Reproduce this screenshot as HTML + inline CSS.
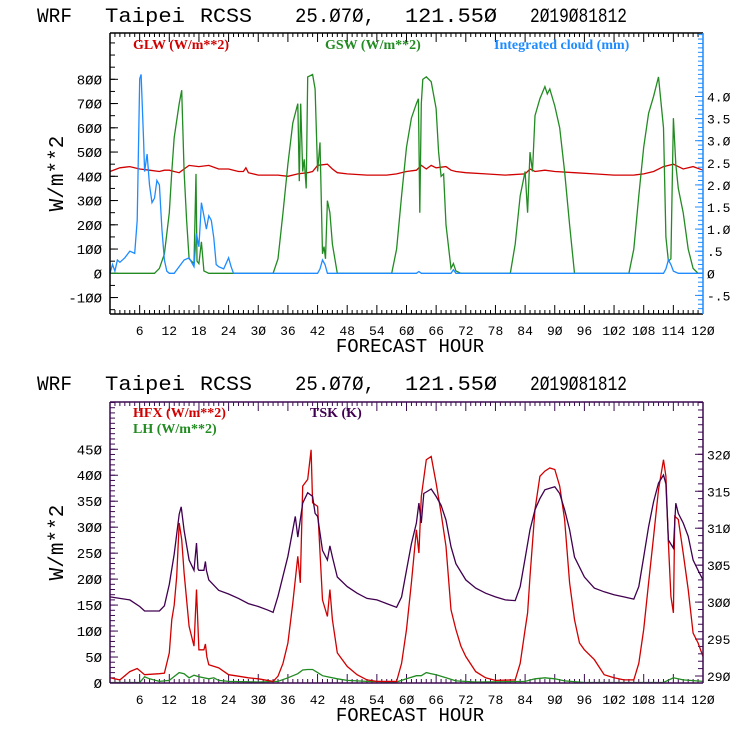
<!DOCTYPE html>
<html><head><meta charset="utf-8"><style>
body{margin:0;background:#fff;}
svg{display:block;}
text{font-family:"Liberation Mono","DejaVu Sans Mono",monospace;}
.leg{font-family:"Liberation Serif",serif;font-weight:bold;font-size:14px;}
</style></head><body>
<svg id="chart" width="740" height="740" viewBox="0 0 740 740"></svg>
<script>
// ---------- Data: top panel ----------
const glwHours=[0,2,4,6,8,10,11,12,13,14,15,16,18,20,22,24,26,27,27.5,28,30,34,36,38,40,41,42,44,45,46,48,52,56,58,60,62,63,64,65,66,68,69,70,72,76,80,84,85,86,88,90,94,98,102,106,108,110,112,114,116,118,120];
const glwValues=[420,435,440,430,425,420,425,425,420,415,430,445,440,445,430,430,420,420,435,415,405,405,400,410,415,420,445,450,430,415,410,405,405,410,420,425,445,430,445,435,440,425,420,415,410,405,410,430,420,425,420,415,410,405,405,410,420,440,450,430,440,425];
const gswHours=[0,9,10,11,12,12.5,13,14,14.5,15,15.5,16,17,17.4,17.6,18,18.5,19,20,21,33,34,35,36,37,38,38.3,38.6,39,39.3,39.7,40,41,41.5,42,42.5,43,43.3,43.6,44,44.5,45,46,57,58,59,60,61,62,62.4,62.7,63,63.3,64,65,66,66.5,67,67.5,68,69,69.5,70,71,81,82,83,84,84.5,85,85.5,86,87,88,88.5,89,90,91,92,93,94,105,106,107,108,109,110,111,112,112.5,113,113.5,114,114.5,115,116,117,118,119,120];
const gswValues=[0,0,20,80,250,420,560,700,755,420,220,60,40,410,50,40,130,10,0,0,0,60,250,450,620,700,380,700,420,470,350,810,820,760,420,540,80,110,60,300,250,120,0,0,100,320,520,640,700,720,250,700,800,810,790,680,500,400,410,200,20,40,10,0,0,120,320,420,250,500,420,650,720,770,740,760,690,600,420,200,0,0,100,320,520,660,730,810,600,150,50,60,640,450,350,250,100,20,0,0];
const cloudHours=[0,0.5,1,1.5,2,3,4,5,5.5,6,6.3,6.8,7,7.5,8,8.5,9,9.5,10,10.5,11,11.5,12,12.5,13,15,16,17,17.5,18,18.5,19,19.5,20,20.5,21,21.5,22,23,24,24.5,25,26,42,42.5,43,43.5,44,45,62,62.5,63,69,69.5,70,112,112.5,113,113.5,114,115,116,120];
const cloudValues=[0,0.2,0.05,0.3,0.25,0.35,0.5,0.45,1.2,4.4,4.5,3.0,2.3,2.7,2.0,1.6,1.7,2.1,2.0,1.0,0.3,0.05,0,0,0,0.3,0.35,0.15,0.9,0.6,1.6,1.3,1.0,1.3,1.2,0.8,0.2,0.15,0.1,0.35,0.15,0,0,0,0.1,0.3,0.2,0,0,0,0.04,0,0,0.08,0,0,0.1,0.3,0.2,0.05,0,0,0];
// ---------- Data: bottom panel ----------
const tskHours=[0,4,6,7,10,11,12,13,14,14.4,15,16,17,17.5,17.8,18,19,19.3,19.5,20,22,24,26,28,30,32,33,34,36,37.5,38,39,40,41,41.5,42,43,44,44.5,45,46,48,50,52,54,56,58,59,60,61,62,62.5,63,63.5,64,65,66,67,68,69,70,72,74,76,78,80,82,83,84,85,86,87,88,89,90,91,92,93,94,96,98,100,102,104,106,107,108,109,110,111,112,112.5,113,114,114.5,115,116,117,118,119,120];
const tskValues=[300.7,300.3,299.4,298.8,298.8,299.5,302.4,306.5,311.9,312.9,309.7,305.7,304.3,308,304.5,304.3,304.3,305.5,304.3,303,301.6,301.1,300.5,299.8,299.4,298.9,298.6,300.8,306.2,311.6,308.8,313.4,314.8,314.3,312,311.6,307,305.7,307.6,306.1,303.4,302.1,301.2,300.5,300.3,299.8,299.3,300.7,304.3,307.9,310.7,313.4,310.7,314.7,314.9,315.3,314.3,313.1,311.1,307.5,305.2,303,301.9,301.2,300.7,300.3,300.2,302.1,305.9,309.8,312.5,314,315.2,315.4,315.6,314.7,312.5,309.8,306.1,303.4,301.9,301.4,301,300.7,300.4,302.1,306.1,310.2,313.6,316.1,317.2,316,308.4,307.3,313.4,312,310.7,308.9,305.7,304.3,303];
const hfxHours=[0,2,4,5.5,7,10,11,12,12.5,13,13.5,14,14.5,15,16,17,17.5,18,19,19.3,19.6,20,22,24,26,28,30,33,34,35,36,37,38,38.5,39,40,40.7,41,42,43,44,44.5,45,46,48,50,52,54,58,59,60,61,62,62.5,63,64,65,66,67,68,69,70,71,72,74,76,78,82,83,84,84.5,85,86,87,88,89,90,91,92,93,94,95,96,98,100,102,104,106,107,108,109,110,111,112,112.5,113,113.5,114,114.3,115,116,117,118,119,120];
const hfxValues=[10,6,22,28,16,18,19,58,122,150,205,308,276,212,109,71,180,64,64,75,50,35,29,16,13,10,8,3,13,38,77,154,244,193,379,392,449,347,340,160,128,180,122,58,32,16,6,3,3,38,103,193,295,250,359,430,436,385,327,263,141,103,71,51,22,10,5,6,38,103,135,205,334,398,408,414,411,379,315,193,122,77,64,45,16,10,6,6,38,103,193,282,372,430,398,270,167,135,321,315,250,180,96,77,51];
const lhHours=[0,6,7,8,10,12,14,15,16,17,18,20,21,22,24,30,34,36,38,39,40,41,42,43,44,46,48,52,58,60,62,63,64,65,66,68,70,74,84,86,88,90,92,96,112,114,116,120];
const lhValues=[1,1,12,8,3,5,20,18,10,15,12,8,10,5,3,2,3,10,18,25,26,26,20,14,12,8,5,3,2,8,14,14,20,18,16,10,4,2,3,8,10,8,4,1,1,10,6,3];
const xTicks=[6,12,18,24,30,36,42,48,54,60,66,72,78,84,90,96,102,108,114,120];
const topLeftTicks=[-100,0,100,200,300,400,500,600,700,800];
const topRightTicks=[-0.5,0,0.5,1.0,1.5,2.0,2.5,3.0,3.5,4.0];
const topRightLabels=["-.5","0",".5","1.0","1.5","2.0","2.5","3.0","3.5","4.0"];
const botLeftTicks=[0,50,100,150,200,250,300,350,400,450];
const botRightTicks=[290,295,300,305,310,315,320];

const NS="http://www.w3.org/2000/svg";
const svg=document.getElementById('chart');
function mk(tag,attrs,parent){const e=document.createElementNS(NS,tag);for(const k in attrs)e.setAttribute(k,attrs[k]);(parent||svg).appendChild(e);return e;}
function txt(s,attrs,parent){const e=mk('text',attrs,parent);e.textContent=s.replace(/0/g,'\u00d8');return e;}

const X0=110,X1=703;
function xs(h){return X0+(X1-X0)*h/120;}
const titleParts=[["WRF",37,35],["Taipei",105,80],["RCSS",200,52],["25.070,",295,80],["121.550",405,92],["2019081812",530,97]];

function panel(o){
  const g=mk('g',{});
  
  
  const tg=mk('g',{},g);
  
  
  titleParts.forEach(p=>{txt(p[0],{x:p[1],y:o.titleY,'font-size':20,textLength:p[2],lengthAdjust:'spacingAndGlyphs',fill:'#000'},tg);});
  const yl=o.yl, yr=o.yr;
  for(let h=0;h<=120;h++){
    const len=(h%6===0)?9:4;
    mk('line',{x1:xs(h),x2:xs(h),y1:o.bot,y2:o.bot-len,stroke:o.axis,'stroke-width':1},g);
    mk('line',{x1:xs(h),x2:xs(h),y1:o.top,y2:o.top+len,stroke:o.axis,'stroke-width':1},g);
  }
  xTicks.forEach(h=>{const l=txt(String(h),{x:xs(h),y:o.bot+21,'font-size':13,'text-anchor':'middle'},g);
    });
  for(let v=o.lMinStart;v<=o.lMax;v+=o.lMinor){const y=yl(v);if(y<o.top||y>o.bot)continue;
    mk('line',{x1:X0,x2:X0+5,y1:y,y2:y,stroke:o.axis},g);}
  o.lTicks.forEach(v=>{const y=yl(v);mk('line',{x1:X0,x2:X0+8,y1:y,y2:y,stroke:o.axis},g);
    const l=txt(String(v),{x:X0-8,y:y+5,'font-size':14,'text-anchor':'end'},g);
    });
  for(let v=o.rMinStart;v<=o.rMax+1e-9;v+=o.rMinor){const y=yr(v);if(y<o.top||y>o.bot)continue;
    mk('line',{x1:X1,x2:X1-5,y1:y,y2:y,stroke:o.raxis},g);}
  o.rTicks.forEach((v,i)=>{const y=yr(v);mk('line',{x1:X1,x2:X1-8,y1:y,y2:y,stroke:o.raxis},g);
    const l=txt(o.rLabels?o.rLabels[i]:String(v),{x:X1+4,y:y+5,'font-size':13},g);
    });
  o.series.forEach(s=>{
    const pts=s.h.map((h,i)=>xs(h).toFixed(1)+','+s.f(s.v[i]).toFixed(1)).join(' ');
    const p=mk('polyline',{points:pts,fill:'none',stroke:s.c,'stroke-width':1.3},g);
    
  });
  mk('line',{x1:X0,x2:X1,y1:o.top,y2:o.top,stroke:o.axis,'stroke-width':1.5},g);
  mk('line',{x1:X0,x2:X1,y1:o.bot,y2:o.bot,stroke:o.axis,'stroke-width':1.5},g);
  mk('line',{x1:X0,x2:X0,y1:o.top,y2:o.bot,stroke:o.axis,'stroke-width':1.5},g);
  mk('line',{x1:X1,x2:X1,y1:o.top,y2:o.bot,stroke:o.raxis,'stroke-width':1.5},g);
  const yt=txt("W/m**2",{x:0,y:0,'font-size':21,'text-anchor':'middle',transform:`translate(63,${(o.top+o.bot)/2}) rotate(-90)`},g);
  
  const xt=txt("FORECAST HOUR",{x:410,y:o.bot+38,'font-size':19,'text-anchor':'middle'},g);
  
  o.legend.forEach(L=>{const e=mk('text',{x:L.x,y:L.y,fill:L.c,class:'leg'},g);e.textContent=L.t;
    });
}

const tTop=33,tBot=314;
const tyl=v=>273.3-v*0.2425;
const tyr=v=>273.3-v*44.2;
panel({name:'radiation-panel',titleY:22,top:tTop,bot:tBot,axis:'#000',raxis:'#1e8cff',yl:tyl,yr:tyr,
  lTicks:topLeftTicks,lMinStart:-150,lMax:1000,lMinor:50,
  rTicks:topRightTicks,rLabels:topRightLabels,rMinStart:-0.8,rMax:5.4,rMinor:0.1,
  series:[
    {name:'glw-line',h:glwHours,v:glwValues,c:'#d00000',f:tyl},
    {name:'gsw-line',h:gswHours,v:gswValues,c:'#228b22',f:tyl},
    {name:'cloud-line',h:cloudHours,v:cloudValues,c:'#1e8cff',f:tyr}],
  legend:[{x:133,y:49,c:'#d00000',t:'GLW (W/m**2)'},{x:325,y:49,c:'#228b22',t:'GSW (W/m**2)'},{x:494,y:49,c:'#1e8cff',t:'Integrated cloud (mm)'}]
});
const bTop=402,bBot=683;
const byl=v=>683-v*0.5194;
const byr=v=>676-(v-290)*7.39;
panel({name:'flux-panel',titleY:390,top:bTop,bot:bBot,axis:'#3c0a50',raxis:'#3c0a50',yl:byl,yr:byr,
  lTicks:botLeftTicks,lMinStart:0,lMax:540,lMinor:10,
  rTicks:botRightTicks,rMinStart:289,rMax:327,rMinor:1,
  series:[
    {name:'lh-line',h:lhHours,v:lhValues,c:'#228b22',f:byl},
    {name:'hfx-line',h:hfxHours,v:hfxValues,c:'#d00000',f:byl},
    {name:'tsk-line',h:tskHours,v:tskValues,c:'#400050',f:byr}],
  legend:[{x:133,y:417,c:'#d00000',t:'HFX (W/m**2)'},{x:133,y:433,c:'#228b22',t:'LH  (W/m**2)'},{x:310,y:417,c:'#400050',t:'TSK (K)'}]
});
</script>
</body></html>
